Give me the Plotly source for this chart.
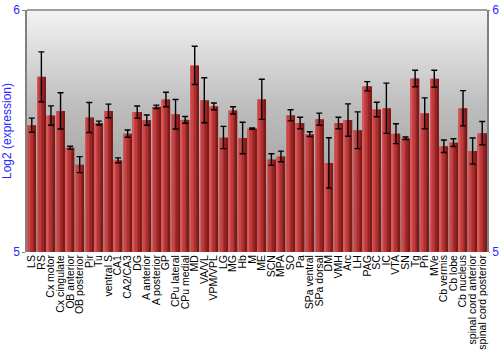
import plotly.graph_objects as go

regions = ["LS", "RS", "Cx motor", "Cx cingulate", "OB anterior", "OB posterior", "Pir", "Tu",
           "ventral S", "CA1", "CA2/CA3", "DG", "A anterior", "A posterior", "GP", "CPu lateral",
           "CPu medial", "MD", "VA/VL", "VPM/VPL", "LG", "MG", "Hb", "M", "ME", "SCN", "MPA", "SO",
           "Pa", "SPa ventral", "SPa dorsal", "DM", "VMH", "Arc", "LH", "PAG", "SC", "IC", "VTA",
           "SN", "Tg", "Pn", "MVe", "Cb vermis", "Cb lobe", "Cb nucleus", "spinal cord anterior",
           "spinal cord posterior"]
expression = [5.524, 5.724, 5.564, 5.583, 5.431, 5.361, 5.556, 5.533,
              5.583, 5.379, 5.489, 5.578, 5.545, 5.600, 5.630, 5.569,
              5.546, 5.771, 5.627, 5.602, 5.473, 5.585, 5.471, 5.510, 5.631, 5.382, 5.395, 5.565,
              5.533, 5.487, 5.549, 5.368, 5.533, 5.545, 5.503, 5.685, 5.589, 5.594, 5.489,
              5.470, 5.717, 5.573, 5.716, 5.437, 5.452, 5.594, 5.417,
              5.491]
errors = [0.029, 0.103, 0.040, 0.075, 0.006, 0.033, 0.062, 0.008,
          0.028, 0.010, 0.015, 0.025, 0.021, 0.007, 0.030, 0.061,
          0.014, 0.079, 0.093, 0.014, 0.046, 0.015, 0.065, 0.003, 0.083, 0.024, 0.022, 0.023,
          0.024, 0.010, 0.025, 0.104, 0.024, 0.067, 0.076, 0.019, 0.030, 0.104, 0.041,
          0.005, 0.034, 0.064, 0.035, 0.026, 0.016, 0.073, 0.054,
          0.048]
y_ticks = [5, 6]

x = list(range(len(regions)))
ymin, ymax = y_ticks[0], y_ticks[-1]
xr = [-0.5, len(regions) - 0.5]
blue = "#2a2aff"
grey = "#808080"

fig = go.Figure()

# background gradient panel (bottom subplot layer)
fig.add_trace(go.Scatter(
    x=[xr[0], xr[1], xr[1], xr[0], xr[0]],
    y=[ymin, ymin, ymax, ymax, ymin],
    mode="lines", line=dict(width=0), fill="toself",
    fillgradient=dict(type="vertical", start=ymin, stop=ymax,
                      colorscale=[[0, "#8c8c8c"], [0.6, "#bdbdbd"], [1, "#f3f3f3"]]),
    hoverinfo="skip", showlegend=False, xaxis="x", yaxis="y"))

# bars drawn as vertical shaded strips to imitate a cylinder look
strip_colors = ["#d25a5a", "#c84646", "#bc3a3a", "#ac3030", "#962424", "#7e1a1a"]
total_w = 0.88
n = len(strip_colors)
sw = total_w / n
base = [ymin] * len(regions)
for i, c in enumerate(strip_colors):
    fig.add_trace(go.Bar(
        x=x, y=[v - ymin for v in expression], base=base,
        width=sw * 1.02, offset=-total_w / 2 + i * sw,
        marker=dict(color=c, line=dict(width=0)),
        showlegend=False, hoverinfo="skip", xaxis="x2", yaxis="y2"))

# error bars
fig.add_trace(go.Scatter(
    x=x, y=expression, mode="markers",
    marker=dict(size=1, color="rgba(0,0,0,0)"),
    error_y=dict(type="data", array=errors, visible=True,
                 color="#000000", thickness=1.4, width=3),
    showlegend=False, hoverinfo="skip", xaxis="x2", yaxis="y2"))

fig.update_layout(
    width=500, height=350,
    margin=dict(l=27, r=13, t=10, b=98, autoexpand=False),
    paper_bgcolor="white", plot_bgcolor="white",
    barmode="overlay",
    font=dict(family="Liberation Sans, Arial, sans-serif", size=11, color="black"),
    xaxis=dict(range=xr, tickmode="array", tickvals=x, automargin=False,
               ticktext=regions, tickangle=-90, showgrid=False, zeroline=False,
               ticks="", showline=False, tickfont=dict(size=10.5, color="black")),
    xaxis2=dict(range=xr, overlaying="x", visible=False),
    yaxis=dict(range=[ymin, ymax], tickmode="array", tickvals=y_ticks, automargin=False,
               ticktext=[str(t) for t in y_ticks], showgrid=False, zeroline=False,
               ticks="outside", ticklen=3, tickcolor=grey,
               showline=True, linecolor=grey, linewidth=1.5,
               tickfont=dict(size=12, color=blue),
               title=dict(text="Log2 (expression)", font=dict(size=12, color=blue), standoff=6)),
    yaxis2=dict(range=[ymin, ymax], overlaying="y", side="right", tickmode="array",
                tickvals=y_ticks, ticktext=[str(t) for t in y_ticks], showgrid=False,
                zeroline=False, ticks="outside", ticklen=1, tickcolor=grey, automargin=False,
                showline=True, linecolor=grey, linewidth=1.5,
                tickfont=dict(size=12, color=blue)),
    shapes=[dict(type="line", xref="paper", yref="paper", x0=0, x1=1, y0=1, y1=1,
                 line=dict(color=grey, width=1.5))],
)

fig.write_html("out.html")
